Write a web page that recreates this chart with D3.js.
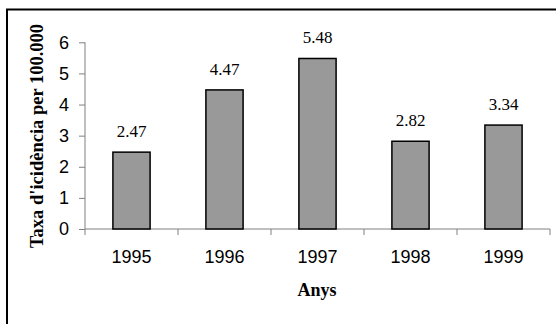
<!DOCTYPE html>
<html>
<head>
<meta charset="utf-8">
<script src="https://cdn.jsdelivr.net/npm/d3@7"></script>
<style>
  body { margin: 0; background: #fff; }
  svg { display: block; }
</style>
</head>
<body>
<div id="chart"></div>
<script>
// dades
const anys = ["1995", "1996", "1997", "1998", "1999"];
const taxes = [2.47, 4.47, 5.48, 2.82, 3.34];
const yTicks = [0, 1, 2, 3, 4, 5, 6];

const W = 556, H = 324;
const plot = {left: 85, right: 550, top: 42.3, bottom: 229};

const svg = d3.select("#chart").append("svg")
    .attr("width", W)
    .attr("height", H);

// marc (només línia superior i esquerra visibles)
svg.append("path")
    .attr("d", `M7,324 V9.5 H556`)
    .attr("fill", "none")
    .attr("stroke", "#000")
    .attr("stroke-width", 2);

// escales
const x = d3.scaleBand()
    .domain(anys)
    .range([plot.left, plot.right])
    .padding(0);

const xBar = d3.scaleBand()
    .domain(anys)
    .range([plot.left, plot.right])
    .paddingInner(0.6)
    .paddingOuter(0.3);

const y = d3.scaleLinear()
    .domain([0, 6])
    .range([plot.bottom, plot.top]);

// eix Y
const yAxis = svg.append("g")
    .attr("transform", `translate(${plot.left},0)`)
    .call(d3.axisLeft(y).tickValues(yTicks).tickSize(6).tickPadding(10).tickFormat(d3.format("d")));
yAxis.select(".domain").remove();
yAxis.selectAll("line").attr("stroke", "#808080");
yAxis.selectAll("text")
    .style("font-family", "'Liberation Sans', Arial, sans-serif")
    .style("font-size", "18px")
    .attr("fill", "#000");
svg.append("line")
    .attr("x1", plot.left).attr("x2", plot.left)
    .attr("y1", plot.top).attr("y2", plot.bottom + 6)
    .attr("stroke", "#808080");

// eix X
svg.append("line")
    .attr("x1", plot.left).attr("x2", plot.right)
    .attr("y1", plot.bottom).attr("y2", plot.bottom)
    .attr("stroke", "#808080");
const fronteres = anys.map(a => x(a) + x.bandwidth());
svg.selectAll(".tickx")
    .data(fronteres)
    .enter().append("line")
    .attr("class", "tickx")
    .attr("x1", d => d).attr("x2", d => d)
    .attr("y1", plot.bottom).attr("y2", plot.bottom + 6)
    .attr("stroke", "#808080");
svg.selectAll(".labelx")
    .data(anys)
    .enter().append("text")
    .attr("class", "labelx")
    .attr("x", d => x(d) + x.bandwidth() / 2)
    .attr("y", 263)
    .attr("text-anchor", "middle")
    .style("font-family", "'Liberation Sans', Arial, sans-serif")
    .style("font-size", "18px")
    .text(d => d);

// barres
svg.selectAll(".barra")
    .data(taxes)
    .enter().append("rect")
    .attr("class", "barra")
    .attr("x", (d, i) => xBar(anys[i]))
    .attr("y", d => y(d))
    .attr("width", xBar.bandwidth())
    .attr("height", d => y(0) - y(d))
    .attr("fill", "#999999")
    .attr("stroke", "#000")
    .attr("stroke-width", 1.5);

// etiquetes de valor
svg.selectAll(".valor")
    .data(taxes)
    .enter().append("text")
    .attr("class", "valor")
    .attr("x", (d, i) => xBar(anys[i]) + xBar.bandwidth() / 2)
    .attr("y", d => y(d) - 15)
    .attr("text-anchor", "middle")
    .style("font-family", "'Liberation Serif', 'Times New Roman', serif")
    .style("font-size", "17px")
    .text(d => d3.format(".2f")(d));

// títols dels eixos
svg.append("text")
    .attr("transform", `translate(43,136) rotate(-90)`)
    .attr("text-anchor", "middle")
    .style("font-family", "'Liberation Serif', 'Times New Roman', serif")
    .style("font-size", "18.5px")
    .style("font-weight", "bold")
    .text("Taxa d'icidència per 100.000");

svg.append("text")
    .attr("x", 317)
    .attr("y", 296)
    .attr("text-anchor", "middle")
    .style("font-family", "'Liberation Serif', 'Times New Roman', serif")
    .style("font-size", "18px")
    .style("font-weight", "bold")
    .text("Anys");
</script>
</body>
</html>
